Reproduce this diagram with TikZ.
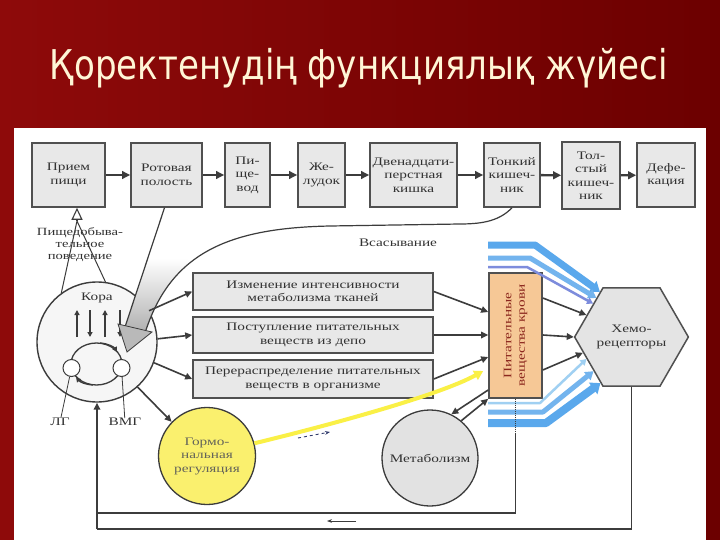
\documentclass[tikz,border=0pt]{standalone}
\usepackage{fontspec}
\usepackage{graphicx}
\setmainfont{Liberation Serif}
\newfontfamily\titlef{DejaVu Sans}
\newfontfamily\diagf{Liberation Serif}[FakeStretch=1.33]
\usetikzlibrary{arrows.meta,shapes.geometric,calc}
\definecolor{bgl}{RGB}{142,10,10}
\definecolor{bgr}{RGB}{108,0,0}
\definecolor{titlec}{RGB}{255,246,214}
\definecolor{linec}{RGB}{60,60,60}
\definecolor{boxline}{RGB}{80,80,80}
\definecolor{boxfill}{RGB}{232,232,232}
\definecolor{txtc}{RGB}{50,50,50}
\definecolor{orangec}{RGB}{246,200,150}
\definecolor{redtxt}{RGB}{140,40,30}
\definecolor{hexfill}{RGB}{228,228,228}
\definecolor{yellowc}{RGB}{250,240,110}
\definecolor{yline}{RGB}{250,240,70}
\definecolor{metafill}{RGB}{226,226,226}
\definecolor{circfill}{RGB}{246,246,246}
\definecolor{blueA}{RGB}{90,168,236}
\definecolor{blueB}{RGB}{115,180,238}
\definecolor{blueC}{RGB}{125,140,220}
\definecolor{blueD}{RGB}{160,208,242}
\definecolor{dashblue}{RGB}{50,60,110}
\definecolor{hormtxt}{RGB}{100,100,90}
\begin{document}
\begin{tikzpicture}[x=1pt,y=-1pt,
  lbl/.style={font=\diagf\fontsize{11.5}{13.5}\selectfont, text=txtc, align=center, inner sep=0pt},
  gbox/.style={lbl, draw=boxline, fill=boxfill, line width=1.6pt},
  arr/.style={draw=linec, line width=1.6pt, -{Triangle[length=7pt,width=6.5pt]}},
  thickarr/.style={draw=linec, line width=2.4pt, -{Triangle[length=8pt,width=7.5pt]}},
  smallarr/.style={draw=linec, line width=1.6pt, -{Triangle[length=5pt,width=5pt]}},
  thinline/.style={draw=linec, line width=0.8pt},
  band/.style={line join=round, line cap=butt},
]
\useasboundingbox (0,0) rectangle (720,540);
\shade[left color=bgl, right color=bgr] (0,0) rectangle (720,540);
\fill[white] (14,128) rectangle (706,540);

% title
\node[anchor=base, text=titlec, inner sep=0pt] (title) at (359,80)
  {\resizebox{618pt}{\height}{\titlef\fontsize{41}{48}\selectfont Қоректенудің функциялық жүйесі}};

% top row
\node[gbox, minimum width=73pt, minimum height=64pt] (b1) at (68.5,175) {Прием\\пищи};
\node[gbox, minimum width=71pt, minimum height=64pt] (b2) at (166.5,175) {Ротовая\\полость};
\node[gbox, minimum width=45pt, minimum height=64pt] (b3) at (247.5,175) {Пи-\\ще-\\вод};
\node[gbox, minimum width=47pt, minimum height=64pt] (b4) at (321.5,175) {Же-\\лудок};
\node[gbox, minimum width=87pt, minimum height=64pt] (b5) at (413.5,175) {Двенадцати-\\перстная\\кишка};
\node[gbox, minimum width=56pt, minimum height=64pt] (b6) at (512,175) {Тонкий\\кишеч-\\ник};
\node[gbox, minimum width=58pt, minimum height=67pt] (b7) at (591,175.5) {Тол-\\стый\\кишеч-\\ник};
\node[gbox, minimum width=58pt, minimum height=64pt] (b8) at (666,175) {Дефе-\\кация};
\draw[thickarr] (b1) -- (b2);
\draw[thickarr] (b2) -- (b3);
\draw[thickarr] (b3) -- (b4);
\draw[thickarr] (b4) -- (b5);
\draw[thickarr] (b5) -- (b6);
\draw[thickarr] (b6) -- (b7);
\draw[thickarr] (b7) -- (b8);

% Kora circle
\node[circle, draw=linec, fill=circfill, line width=1.4pt, minimum size=120pt, inner sep=0pt] (kora) at (97,342) {};
\node[lbl] (koralbl) at (97,298) {Кора};
\draw[smallarr] (77,337) -- (77,310);
\draw[smallarr] (90,310) -- (90,337);
\draw[smallarr] (105,337) -- (105,310);
\draw[smallarr] (120,310) -- (120,337);
\draw[draw=linec, line width=1.3pt] (96.5,364) ellipse [x radius=25.5, y radius=21];
\draw[draw=linec, line width=1.3pt, -{Triangle[length=5pt,width=5pt]}] (100,343) .. controls (108,343.5) and (114,347) .. (117,352);
\draw[draw=linec, line width=1.3pt, -{Triangle[length=5pt,width=5pt]}] (93,385) .. controls (85,384.5) and (80,382) .. (76,377);
\node[circle, draw=linec, fill=white, line width=1pt, minimum size=17pt, inner sep=0pt] (lg) at (71.5,368) {};
\node[circle, draw=linec, fill=white, line width=1pt, minimum size=17pt, inner sep=0pt] (vmg) at (121.5,368) {};
\node[lbl] (lglbl) at (60,422) {ЛГ};
\node[lbl] (vmglbl) at (125,422) {ВМГ};
\draw[thinline] (lg) -- (lglbl);
\draw[thinline] (vmg) -- (vmglbl);

% behaviour
\node[lbl, font=\diagf\fontsize{11}{12}\selectfont] (behav) at (80,245) {Пищедобыва-\\тельное\\поведение};
\coordinate (apex) at (77,221);
\draw[draw=linec, line width=1pt] (kora.126) -- (apex) -- (kora.82);
\draw[draw=linec, line width=1.1pt, -{Triangle[open,length=12pt,width=11pt]}] (apex) -- (apex |- b1.south);

% absorption wedge
\shade[top color=white, bottom color=gray!60] (148,258) -- (125,327) -- (146,330)
  .. controls (156.4,298.8) and (171.9,276.2) .. (193.2,260.3) -- cycle;
\coordinate (wedgeL) at (125,327);
\coordinate (wedgeR) at (146,330);
\draw[draw=linec, line width=1.2pt] ([xshift=-2pt]b2.south) -- (wedgeL);
\draw[draw=linec, line width=1.2pt] (b6.south) .. controls (500,220) and (485,224) .. (460,224)
  -- (330,226) .. controls (230,228) and (172,252) .. (wedgeR);
\filldraw[fill=gray!55, draw=linec, line width=0.8pt] (118,324) -- (127,352) -- (152,332) -- cycle;
\node[lbl] (vsas) at (398,243) {Всасывание};

% middle boxes
\node[gbox, minimum width=240pt, minimum height=37pt] (mA) at (313,291.5) {Изменение интенсивности\\метаболизма тканей};
\node[gbox, minimum width=240pt, minimum height=36pt] (mB) at (313,335) {Поступление питательных\\веществ из депо};
\node[gbox, minimum width=240pt, minimum height=38pt] (mC) at (313,379) {Перераспределение питательных\\веществ в организме};

% circles
\node[circle, lbl, draw=linec, fill=yellowc, line width=1.3pt, minimum size=97pt, text=hormtxt] (horm) at (207,456) {Гормо-\\нальная\\регуляция};
\node[circle, lbl, draw=linec, fill=metafill, line width=1.3pt, minimum size=96pt] (meta) at (430,458) {Метаболизм};

% orange box
\node[draw=boxline, fill=orangec, line width=1.6pt, minimum width=53pt, minimum height=125pt, inner sep=0pt] (orange) at (515.5,335.5) {};
\node[lbl, rotate=90, text=redtxt] (orangelbl) at (orange.center) {Питательные\\вещества крови};

% hexagon
\node[regular polygon, regular polygon sides=6, minimum size=113pt, inner sep=0pt, draw=boxline, fill=hexfill, line width=1.5pt, lbl] (hex) at (631.5,337) {Хемо-\\рецепторы};

% arrows kora -> boxes
\draw[arr] (kora.31) -- (mA.west);
\draw[arr] (kora.3) -- (mB.west);
\draw[arr] (kora.-20) -- (mC.west);
\draw[arr] (kora.-48) -- (horm.136);

% boxes -> orange
\draw[arr] (mA.east) -- (orange.west |- 0,312);
\draw[arr] (mB.east) -- (orange.west |- 0,335);
\draw[arr] (mC.east) -- (orange.west |- 0,357);
\draw[draw=yline, line width=4pt, -{Triangle[length=9pt,width=10pt]}] (horm.15) .. controls (330,425) and (440,395) .. ([xshift=-5pt]orange.west |- 0,371);
\draw[arr] (orange.west |- 0,390) -- (meta.64);
\draw[arr] (meta.50) -- (orange.south west);

% orange -> hex
\draw[arr] (orange.east |- 0,298) -- (hex.154);
\draw[arr] (orange.east |- 0,335) -- (hex.west);
\draw[arr] (orange.east |- 0,370) -- (hex.198);

% blue bands
\coordinate (t1) at (488,245);
\coordinate (t2) at (488,258);
\coordinate (t3) at (488,267);
\coordinate (u1) at (488,403);
\coordinate (u2) at (488,412);
\coordinate (u3) at (488,423);
\draw[band, draw=blueA, line width=7pt, -{Triangle[length=9pt,width=13pt]}] (t1) -- (535,245) -- (hex.125);
\draw[band, draw=blueB, line width=5pt, -{Triangle[length=8pt,width=10pt]}] (t2) -- (530,258) -- (hex.132);
\draw[band, draw=blueC, line width=2.5pt, -{Triangle[length=6pt,width=7pt]}] (t3) -- (527,267) -- (hex.139);
\draw[band, draw=blueD, line width=2.5pt, -{Triangle[length=6pt,width=7pt]}] (u1) -- (540,403) -- (hex.206);
\draw[band, draw=blueB, line width=5pt, -{Triangle[length=8pt,width=10pt]}] (u2) -- (543,412) -- (hex.222);
\draw[band, draw=blueA, line width=8pt, -{Triangle[length=9pt,width=14pt]}] (u3) -- (546,423) -- (hex.236);

% feedback lines
\draw[draw=linec, line width=1pt, densely dotted] (orange.south) -- (orange.south |- 0,433);
\draw[draw=linec, line width=1.4pt] (orange.south |- 0,433) -- (orange.south |- 0,513) -- (kora.south |- 0,513);
\draw[draw=linec, line width=1.4pt] (hex.south) -- (hex.south |- 0,529) -- (kora.south |- 0,529);
\draw[arr] (kora.south |- 0,529) -- (kora.south);

% small direction marks
\coordinate (m1) at (356,521);
\coordinate (m2) at (327,521);
\draw[draw=linec, line width=0.8pt, -{Stealth[length=5pt]}] (m1) -- (m2);
\coordinate (m3) at (298,438);
\coordinate (m4) at (330,432);
\draw[draw=dashblue, line width=0.9pt, dashed, -{Stealth[length=5pt]}] (m3) -- (m4);
\end{tikzpicture}
\end{document}
